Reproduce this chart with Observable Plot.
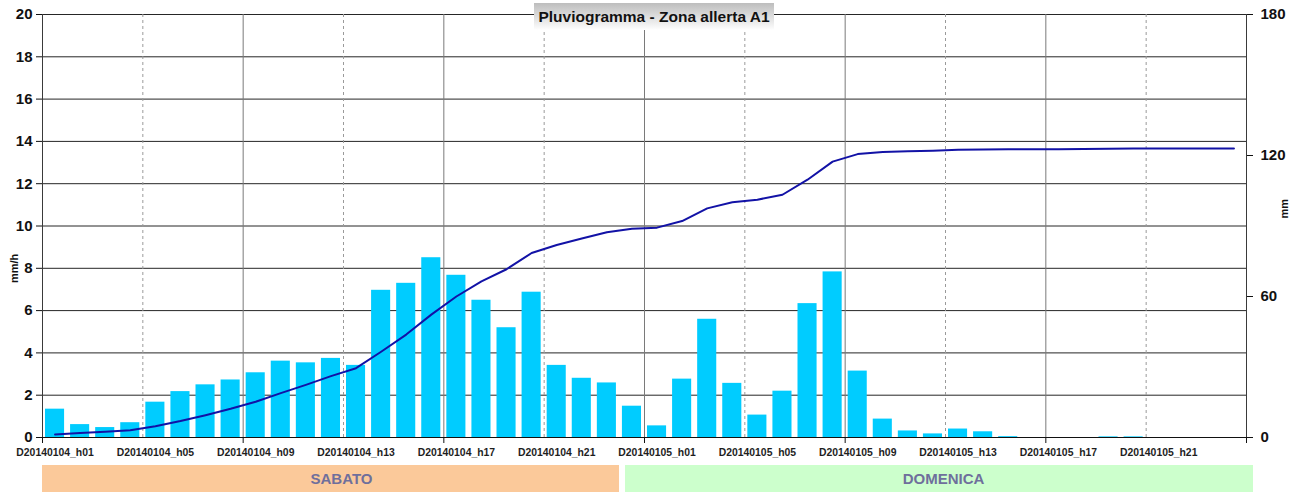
<!DOCTYPE html>
<html>
<head>
<meta charset="utf-8">
<script src="https://cdn.jsdelivr.net/npm/d3@7"></script>
<script src="https://cdn.jsdelivr.net/npm/@observablehq/plot@0.6"></script>
<style>
  html, body { margin: 0; padding: 0; background: #fff; }
  #wrap { position: relative; width: 1300px; height: 494px; font-family: Arial, "Liberation Sans", sans-serif; }
  #title {
    position: absolute; left: 534px; top: 3px; width: 240px; height: 27px;
    background: linear-gradient(#bdbdbd, #f4f4f4 85%, #ffffff);
    font: bold 15.5px Arial, "Liberation Sans", sans-serif; color: #111;
    text-align: center; line-height: 27px; z-index: 2;
  }
  svg { display: block; }
</style>
</head>
<body>
<div id="wrap">
  <div id="title">Pluviogramma - Zona allerta A1</div>
  <div id="chart"></div>
  <div id="days"></div>
</div>
<script>
// ---- data ----
const dayCodes = ["20140104", "20140105"];
const hourCodes = ["h01","h02","h03","h04","h05","h06","h07","h08","h09","h10","h11","h12",
                   "h13","h14","h15","h16","h17","h18","h19","h20","h21","h22","h23","h24"];
const categories = dayCodes.flatMap(d => hourCodes.map(h => `D${d}_${h}`));

// hourly rain intensity (mm/h), left axis
const rainSabato = [1.34, 0.61, 0.47, 0.70, 1.67, 2.17, 2.49, 2.72, 3.06, 3.61, 3.53, 3.74,
                    3.41, 6.96, 7.29, 8.50, 7.67, 6.49, 5.19, 6.87, 3.41, 2.80, 2.58, 1.48];
const rainDomenica = [0.55, 2.76, 5.59, 2.56, 1.06, 2.19, 6.33, 7.83, 3.14, 0.87, 0.31, 0.17,
                      0.40, 0.27, 0.04, 0, 0, 0, 0.03, 0.03, 0, 0, 0, 0];

// cumulated rain (mm), right axis
const cumSabato = [1.3, 1.9, 2.4, 3.1, 4.8, 7.0, 9.5, 12.2, 15.2, 18.9, 22.4, 26.1,
                   29.5, 36.5, 43.8, 52.3, 60.0, 66.4, 71.6, 78.5, 81.9, 84.7, 87.3, 88.8];
const cumDomenica = [89.3, 92.1, 97.5, 100.1, 101.2, 103.3, 109.7, 117.4, 120.6, 121.5, 121.8, 122.0,
                     122.4, 122.6, 122.7, 122.7, 122.7, 122.8, 122.9, 123.0, 123.0, 123.0, 123.0, 123.0];

const leftTicks = [0, 2, 4, 6, 8, 10, 12, 14, 16, 18, 20];
const rightTicks = [0, 60, 120, 180];
const dayNames = ["SABATO", "DOMENICA"];

// ---- build tables ----
const rain = rainSabato.concat(rainDomenica);
const cum = cumSabato.concat(cumDomenica);
const table = categories.map((c, i) => ({ i, cat: c, rain: rain[i], cum: cum[i] }));
const nCat = categories.length;           // 48 hours
const leftMax = 20, rightMax = 180, k = rightMax / leftMax;

const labelHours = d3.range(0, nCat, 4);           // h01, h05, ...
const majorGrid = d3.range(8, nCat, 8);            // solid vertical lines
const minorGrid = d3.range(4, nCat, 8);            // dashed vertical lines
const axisTicksX = d3.range(0, nCat + 1, 8);

const font = "Arial, 'Liberation Sans', sans-serif";

const chart = Plot.plot({
  width: 1300,
  height: 460,
  marginLeft: 42,
  marginRight: 54,
  marginTop: 14,
  marginBottom: 23,
  style: { fontFamily: font, background: "transparent", overflow: "visible" },
  x: { type: "linear", domain: [0, nCat], axis: null },
  y: { domain: [0, leftMax], axis: null },
  marks: [
    Plot.ruleY(leftTicks.filter(v => v > 0), { stroke: "#262626", strokeWidth: 1 }),
    Plot.ruleX(minorGrid, { stroke: "#9a9a9a", strokeDasharray: "3,3", strokeWidth: 1 }),
    Plot.ruleX(majorGrid, { stroke: "#7a7a7a", strokeWidth: 1 }),
    Plot.rectY(table, {
      x1: d => d.i, x2: d => d.i + 1, y: "rain",
      insetLeft: 3, insetRight: 3, fill: "#00CCFF"
    }),
    Plot.line(table, {
      x: d => d.i + 0.5, y: d => d.cum / k,
      stroke: "#1212a6", strokeWidth: 2
    }),
    Plot.ruleX([0, nCat], { stroke: "#3a3a3a", strokeWidth: 1 }),
    Plot.ruleY([0], { stroke: "#111", strokeWidth: 1.2 }),
    // left axis
    Plot.axisY({
      anchor: "left", ticks: leftTicks, tickSize: 6, tickPadding: 4,
      fontSize: 15, fontWeight: "bold", color: "#111", label: null
    }),
    // right axis (mm)
    Plot.axisY({
      anchor: "right", ticks: rightTicks.map(v => v / k), tickFormat: v => Math.round(v * k),
      tickSize: 6, tickPadding: 8, fontSize: 15, fontWeight: "bold", color: "#111", label: null
    }),
    // x tick marks
    Plot.axisX({
      ticks: axisTicksX, tickSize: 6, tickFormat: () => "", color: "#111", label: null
    }),
    // x tick labels
    Plot.axisX({
      ticks: labelHours.map(h => h + 0.5), tickSize: 0, tickPadding: 11,
      tickFormat: v => categories[Math.floor(v)],
      fontSize: 10.4, fontWeight: "bold", color: "#1e1e1e", label: null
    }),
    // axis titles
    Plot.text(["mm/h"], {
      frameAnchor: "left", rotate: -90, dx: -28, dy: 57,
      fontSize: 11, fontWeight: "bold", fill: "#111"
    }),
    Plot.text(["mm"], {
      frameAnchor: "right", rotate: -90, dx: 38, dy: -27,
      fontSize: 11, fontWeight: "bold", fill: "#111"
    })
  ]
});
document.getElementById("chart").appendChild(chart);

// ---- day band ----
const dayTable = dayNames.map((name, j) => ({ name, from: j * 24, to: (j + 1) * 24 }));
const bands = Plot.plot({
  width: 1300,
  height: 34,
  marginLeft: 42,
  marginRight: 54,
  marginTop: 5,
  marginBottom: 2,
  style: { fontFamily: font, background: "transparent", overflow: "visible" },
  x: { type: "linear", domain: [0, nCat], axis: null },
  y: { domain: [0, 1], axis: null },
  marks: [
    Plot.rect(dayTable.filter(d => d.name === "SABATO"), {
      x1: "from", x2: "to", y1: 0, y2: 1, fill: "#FBC99A", insetRight: 25
    }),
    Plot.rect(dayTable.filter(d => d.name === "DOMENICA"), {
      x1: "from", x2: "to", y1: 0, y2: 1, fill: "#CCFFCC", insetLeft: -19, insetRight: -7
    }),
    Plot.text(dayTable, {
      x: d => (d.from + d.to) / 2, y: 0.5, text: "name",
      fontSize: 15, fontWeight: "bold", fill: "#6f6f9c", dx: -2
    })
  ]
});
document.getElementById("days").appendChild(bands);
</script>
</body>
</html>
